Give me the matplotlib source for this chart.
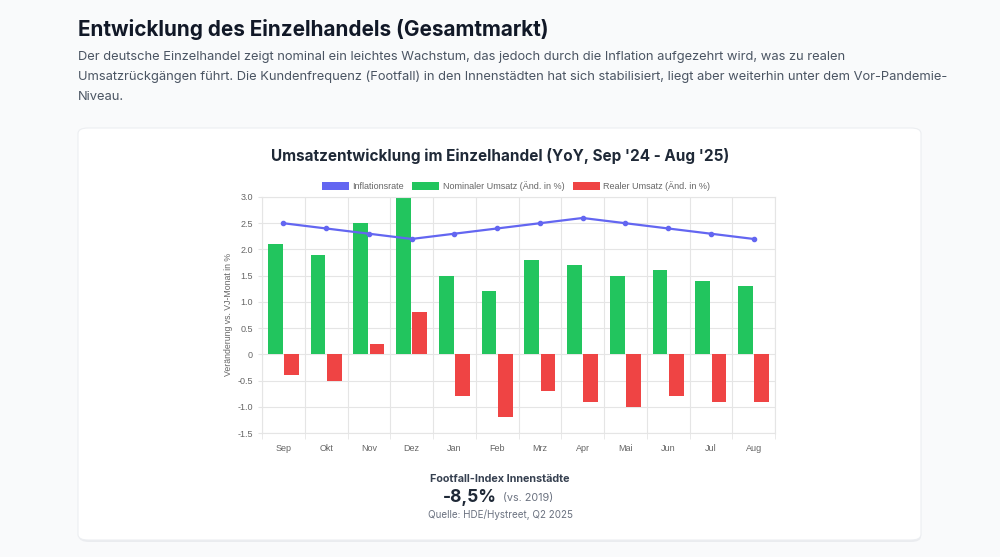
import numpy as np
import matplotlib
matplotlib.use('Agg')
import matplotlib.pyplot as plt
from matplotlib.patches import FancyBboxPatch, Patch

plt.rcParams['font.family'] = ['Inter', 'DejaVu Sans']
CHART_FONT = ['Liberation Sans', 'DejaVu Sans']

# ============================================================
# Daten
# ============================================================
months = ['Sep', 'Okt', 'Nov', 'Dez', 'Jan', 'Feb', 'Mrz', 'Apr', 'Mai', 'Jun', 'Jul', 'Aug']
nominal = [2.1, 1.9, 2.5, 3.0, 1.5, 1.2, 1.8, 1.7, 1.5, 1.6, 1.4, 1.3]
real = [-0.4, -0.5, 0.2, 0.8, -0.8, -1.2, -0.7, -0.9, -1.0, -0.8, -0.9, -0.9]
inflation = [2.5, 2.4, 2.3, 2.2, 2.3, 2.4, 2.5, 2.6, 2.5, 2.4, 2.3, 2.2]
y_ticks = [-1.5, -1.0, -0.5, 0, 0.5, 1.0, 1.5, 2.0, 2.5, 3.0]

GREEN = '#22c55e'
RED = '#ef4444'
BLUE = '#6366f1'
W, H = 1000, 557

def fx(px):
    return px / W

def fy(py):
    return 1 - py / H

fig = plt.figure(figsize=(10, 5.57), dpi=100)
fig.patch.set_facecolor('#f9fafb')

# Karte mit Schatten (hinter den Achsen)
shadow = FancyBboxPatch((fx(79), fy(542)), fx(842), (542 - 128) / H,
                        boxstyle='round,pad=0,rounding_size=0.01',
                        transform=fig.transFigure, facecolor='#e5e7eb',
                        edgecolor='none', alpha=0.7, zorder=-2)
card = FancyBboxPatch((fx(78), fy(540)), fx(843), (540 - 128) / H,
                      boxstyle='round,pad=0,rounding_size=0.01',
                      transform=fig.transFigure, facecolor='white',
                      edgecolor='#eceef1', linewidth=0.8, zorder=-1)
fig.patches.extend([shadow, card])

# Kopftexte
fig.text(fx(78), fy(30), 'Entwicklung des Einzelhandels (Gesamtmarkt)',
         fontsize=14.9, fontweight='bold', color='#111827', va='center')
para = ['Der deutsche Einzelhandel zeigt nominal ein leichtes Wachstum, das jedoch durch die Inflation aufgezehrt wird, was zu realen',
        'Umsatzrückgängen führt. Die Kundenfrequenz (Footfall) in den Innenstädten hat sich stabilisiert, liegt aber weiterhin unter dem Vor-Pandemie-',
        'Niveau.']
for i, line in enumerate(para):
    fig.text(fx(78), fy(57 + 20 * i), line, fontsize=9.3, color='#4b5563', va='center')

fig.text(0.5, fy(156), "Umsatzentwicklung im Einzelhandel (YoY, Sep '24 - Aug '25)",
         fontsize=11, fontweight='bold', color='#1f2937', ha='center', va='center')

# ============================================================
# Diagramm
# ============================================================
ax = fig.add_axes([fx(262), fy(433), fx(775) - fx(262), (433 - 197) / H])
ax.set_facecolor('white')
x = np.arange(len(months))
bw = 0.35
off = 0.19
ax.bar(x - off, nominal, width=bw, color=GREEN, zorder=2)
ax.bar(x + off, real, width=bw, color=RED, zorder=2)
ax.plot(x, inflation, color=BLUE, linewidth=1.6, marker='o', markersize=3, zorder=3)

ax.set_xlim(-0.5, len(months) - 0.5)
ax.set_ylim(-1.5, 3.0)
ax.set_yticks(y_ticks)
ax.set_yticklabels(['0' if t == 0 else f'{t:.1f}' for t in y_ticks])
ax.set_xticks(x)
ax.set_xticklabels(months)
ax.set_xticks(np.arange(-0.5, len(months)), minor=True)
ax.grid(False)
ax.yaxis.grid(True, color='#e5e5e5', linewidth=0.8, zorder=0)
ax.xaxis.grid(True, which='minor', color='#e5e5e5', linewidth=0.8, zorder=0)
ax.set_axisbelow(True)
ax.tick_params(axis='both', labelsize=6.5, colors='#666666', length=3, color='#e5e5e5')
ax.tick_params(axis='x', which='minor', length=4, color='#e5e5e5')
ax.tick_params(axis='x', which='major', length=0, pad=8)
for lab in ax.get_xticklabels() + ax.get_yticklabels():
    lab.set_family(CHART_FONT)
for s in ax.spines.values():
    s.set_color('#e5e5e5')
    s.set_linewidth(0.8)
ax.set_ylabel('Veränderung vs. VJ-Monat in %', fontsize=6.3, color='#666666',
              labelpad=3, family=CHART_FONT)

handles = [Patch(facecolor=BLUE), Patch(facecolor=GREEN), Patch(facecolor=RED)]
labels = ['Inflationsrate', 'Nominaler Umsatz (Änd. in %)', 'Realer Umsatz (Änd. in %)']
fig.legend(handles, labels, loc='center', bbox_to_anchor=(fx(516), fy(186)), ncol=3,
           frameon=False, prop={'family': CHART_FONT, 'size': 6.5},
           handlelength=3.0, handleheight=0.9,
           columnspacing=0.9, handletextpad=0.4, labelcolor='#666666')

# Footfall-Kennzahl
fig.text(0.5, fy(479), 'Footfall-Index Innenstädte', fontsize=7.8, fontweight='bold',
         color='#374151', ha='center', va='center')
fig.text(fx(497), fy(497), '-8,5%', fontsize=12.5, fontweight='bold', color='#1f2937',
         ha='right', va='center')
fig.text(fx(503), fy(498), '(vs. 2019)', fontsize=7.8, color='#6b7280', ha='left', va='center')
fig.text(0.5, fy(515), 'Quelle: HDE/Hystreet, Q2 2025', fontsize=7.1, color='#6b7280',
         ha='center', va='center')

plt.savefig('out.png', dpi=100, facecolor=fig.get_facecolor())
